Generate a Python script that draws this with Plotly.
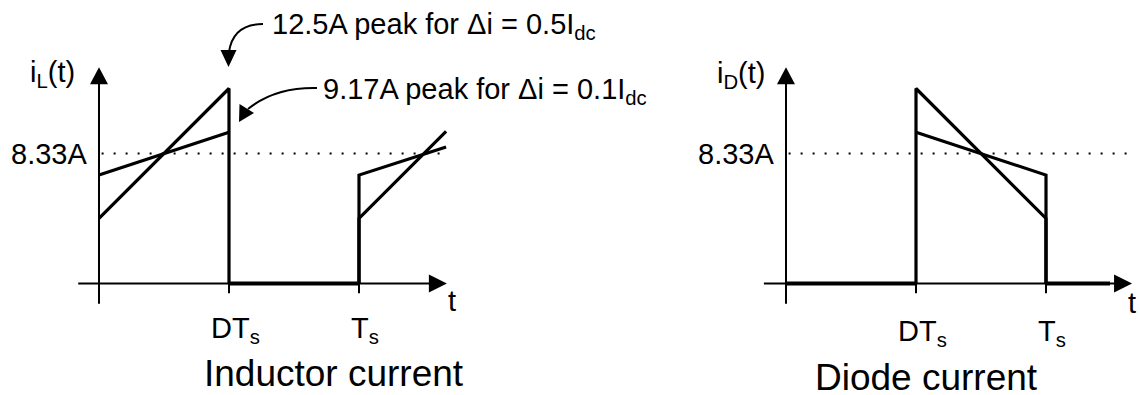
import plotly.graph_objects as go

W, H = 1140, 395

# ---------------- data (t in units of Ts, i in A) ----------------
D = 0.5            # switch-off instant DTs
Ts = 1.0
t_end_L = 1.335    # right edge of inductor waveform
t_end_zeroD = 1.246
I_avg = 8.33

iL_big_t = [0.0, D, D, None, Ts, Ts, t_end_L]
iL_big_i = [4.17, 12.5, 0.0, None, 0.0, 4.17, 9.75]
iL_small_t = [0.0, D, None, Ts, Ts, t_end_L]
iL_small_i = [6.95, 9.7, None, 0.0, 6.95, 8.75]
iL_zero_t = [D, Ts]
iL_zero_i = [0.0, 0.0]

iD_big_t = [D, D, Ts, Ts]
iD_big_i = [0.0, 12.5, 4.17, 0.0]
iD_small_t = [D, Ts, Ts]
iD_small_i = [9.7, 6.95, 0.0]
iD_zero_t = [0.0, D, None, Ts, t_end_zeroD]
iD_zero_i = [0.0, 0.0, None, 0.0, 0.0]

tick_t = [D, Ts]
tick_labels = ["DT<sub>s</sub>", "T<sub>s</sub>"]

# axis extents
yaxis_lo, yaxis_hi = -1.3, 13.87
xaxis_lo_L, xaxis_hi_L = -0.08, 1.338
xaxis_lo_R, xaxis_hi_R = -0.085, 1.331

# ---------------- geometry helpers ----------------
PX_T = 260.0
PX_A = 15.6
X0 = {"L": 99.0, "R": 786.0}
Y0 = 283.5


def X(t, p):
    return X0[p] + t * PX_T


def Y(i):
    return Y0 - i * PX_A


def P(x, y):
    return f"{x / W:.5f},{1 - y / H:.5f}"


FONT = "Liberation Sans, Arial, sans-serif"
BLACK = "black"

fig = go.Figure()


def line(xs, ys, width, axes="L", dash=None):
    fig.add_trace(go.Scatter(
        x=xs, y=ys, mode="lines",
        line=dict(color=BLACK, width=width, dash=dash),
        xaxis="x" if axes == "L" else "x2",
        yaxis="y" if axes == "L" else "y2",
        hoverinfo="skip", showlegend=False, connectgaps=False,
    ))


for p, lo, hi in (("L", xaxis_lo_L, xaxis_hi_L), ("R", xaxis_lo_R, xaxis_hi_R)):
    # dotted average line
    line([0.01, hi - 0.005], [I_avg, I_avg], 2, p, dash="2px,10px")
    # axes
    line([0, 0], [yaxis_lo, yaxis_hi - 0.9], 2, p)
    line([lo, hi - 0.05], [0, 0], 2, p)
    # tick marks
    for tt in tick_t:
        line([tt, tt], [0, -0.62], 2, p)

# waveforms
line(iL_big_t, iL_big_i, 3.2, "L")
line(iL_small_t, iL_small_i, 3.2, "L")
line(iL_zero_t, iL_zero_i, 4, "L")
line(iD_big_t, iD_big_i, 3.2, "R")
line(iD_small_t, iD_small_i, 3.2, "R")
line(iD_zero_t, iD_zero_i, 4, "R")

shapes = []
# axis arrowheads
for p, hi in (("L", xaxis_hi_L), ("R", xaxis_hi_R)):
    tx, ty = X(0, p), Y(yaxis_hi)
    shapes.append(dict(type="path", xref="paper", yref="paper",
                       path=f"M{P(tx, ty)} L{P(tx - 9, ty + 17)} L{P(tx + 9, ty + 17)} Z",
                       fillcolor=BLACK, line=dict(width=0)))
    tx, ty = X(hi, p), Y(0)
    shapes.append(dict(type="path", xref="paper", yref="paper",
                       path=f"M{P(tx, ty)} L{P(tx - 18, ty - 9)} L{P(tx - 18, ty + 9)} Z",
                       fillcolor=BLACK, line=dict(width=0)))

# callout curves + arrowheads
shapes.append(dict(type="path", xref="paper", yref="paper",
                   path=f"M{P(263, 24)} Q{P(233, 24)} {P(229, 52)}",
                   line=dict(color=BLACK, width=2)))
shapes.append(dict(type="path", xref="paper", yref="paper",
                   path=f"M{P(228.5, 67)} L{P(220.5, 50)} L{P(236.5, 50)} Z",
                   fillcolor=BLACK, line=dict(width=0)))
shapes.append(dict(type="path", xref="paper", yref="paper",
                   path=f"M{P(317, 88)} Q{P(275, 87)} {P(248, 109)}",
                   line=dict(color=BLACK, width=2)))
shapes.append(dict(type="path", xref="paper", yref="paper",
                   path=f"M{P(239, 122)} L{P(239.5, 104)} L{P(254, 113)} Z",
                   fillcolor=BLACK, line=dict(width=0)))

ann = []


def text(s, x, y, size=29, xanchor="left", yanchor="middle"):
    ann.append(dict(text=s, x=x / W, y=1 - y / H, xref="paper", yref="paper",
                    xanchor=xanchor, yanchor=yanchor, showarrow=False,
                    font=dict(family=FONT, size=size, color=BLACK)))


text("i<sub>L</sub>(t)", 28, 74)
text("8.33A", 89, Y(I_avg), xanchor="right")
text("t", 446, 301)
text("i<sub>D</sub>(t)", 715, 75)
text("8.33A", 776, Y(I_avg), xanchor="right")
text("t", 1126, 303)
for p, dy in (("L", 0), ("R", 3)):
    for tt, lab in zip(tick_t, tick_labels):
        text(lab, X(tt, p) + 6, 330 + dy, xanchor="center")
text("Inductor current", 334, 373, size=37, xanchor="center")
text("Diode current", 926, 377, size=37, xanchor="center")
text("12.5A peak for \u0394i = 0.5I<sub>dc</sub>", 270, 26)
text("9.17A peak for \u0394i = 0.1I<sub>dc</sub>", 321, 91)

fig.update_layout(
    width=W, height=H,
    margin=dict(l=0, r=0, t=0, b=0),
    paper_bgcolor="white", plot_bgcolor="white",
    shapes=shapes, annotations=ann,
    xaxis=dict(domain=[0, 570 / W], range=[(0 - X0["L"]) / PX_T, (570 - X0["L"]) / PX_T],
               visible=False, fixedrange=True),
    xaxis2=dict(domain=[570 / W, 1], range=[(570 - X0["R"]) / PX_T, (W - X0["R"]) / PX_T],
                visible=False, fixedrange=True),
    yaxis=dict(domain=[0, 1], range=[-(H - Y0) / PX_A, Y0 / PX_A], visible=False, fixedrange=True),
    yaxis2=dict(domain=[0, 1], range=[-(H - Y0) / PX_A, Y0 / PX_A], visible=False,
                anchor="x2", fixedrange=True),
)

fig.write_html("out.html", config={"displayModeBar": False},
               post_script="document.body.style.margin='0';document.body.style.overflow='hidden';")
